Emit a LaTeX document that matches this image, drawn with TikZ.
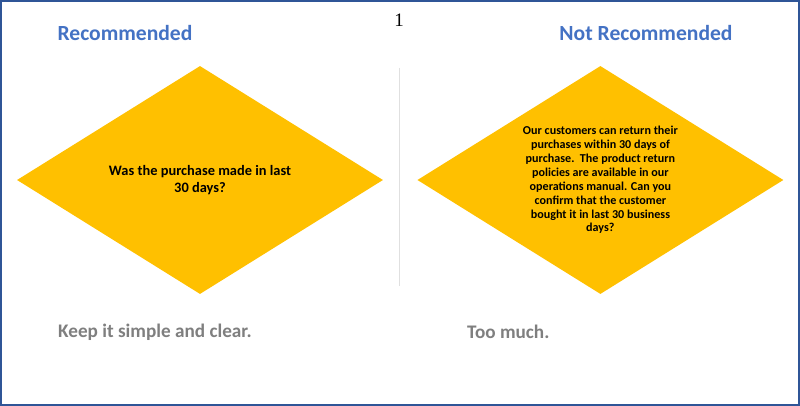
\documentclass[tikz,border=0pt]{standalone}
\usepackage{fontspec}
\setmainfont{Carlito}
\newfontfamily\slidenumfont{Liberation Serif}
\usetikzlibrary{positioning,shapes.geometric}
\definecolor{gold}{HTML}{FFC000}
\definecolor{headblue}{HTML}{4472C4}
\definecolor{notegray}{HTML}{7F7F7F}
\definecolor{frameblue}{HTML}{2F5597}

\begin{document}
\begin{tikzpicture}[x=1pt,y=-1pt]
	% Define styles
	\tikzstyle{decision} = [diamond, fill=gold, inner sep=0pt,
	minimum width=366pt, minimum height=228pt]
	\tikzstyle{question} = [align=center, inner sep=0pt, font=\bfseries]
	\tikzstyle{heading} = [text=headblue, font=\fontsize{21.6}{25}\selectfont\bfseries]
	\tikzstyle{remark} = [anchor=west, text=notegray, inner sep=0pt,
	font=\fontsize{19.2}{22}\selectfont\bfseries]
	
	% Frame
	\useasboundingbox (0,0) rectangle (800,406);
	\fill [white] (0,0) rectangle (800,406);
	\draw [frameblue, line width=2pt] (1,1) rectangle (799,405);
	
	% Place nodes
	\node [decision] (simple) at (200,180) {};
	\node [decision, right=34pt of simple] (wordy) {};
	\node [question, font=\fontsize{14.4}{17}\selectfont\bfseries] (shortq) at (simple.center)
	{Was the purchase made in last\\30 days?};
	\node [question, font=\fontsize{12.1}{13.9}\selectfont\bfseries] (longq) at (wordy.center)
	{Our customers can return their\\purchases within 30 days of\\purchase.\ \ The product return\\policies are available in our\\operations manual. Can you\\confirm that the customer\\bought it in last 30 business\\days?};
	\node [heading] (rec) at (125,33) {Recommended};
	\node [heading] (notrec) at (646,33) {Not Recommended};
	\node [font=\slidenumfont\fontsize{19}{22}\selectfont] (num) at (399,20) {1};
	\node [remark] (keep) at (58,332) {Keep it simple and clear.};
	\node [remark] (much) at (467,332) {Too much.};
	
	% Separator
	\coordinate (sepTop) at (399,68);
	\coordinate (sepBot) at (399,286);
	\draw [black!12, line width=1pt] (sepTop) -- (sepBot);
\end{tikzpicture}
\end{document}
